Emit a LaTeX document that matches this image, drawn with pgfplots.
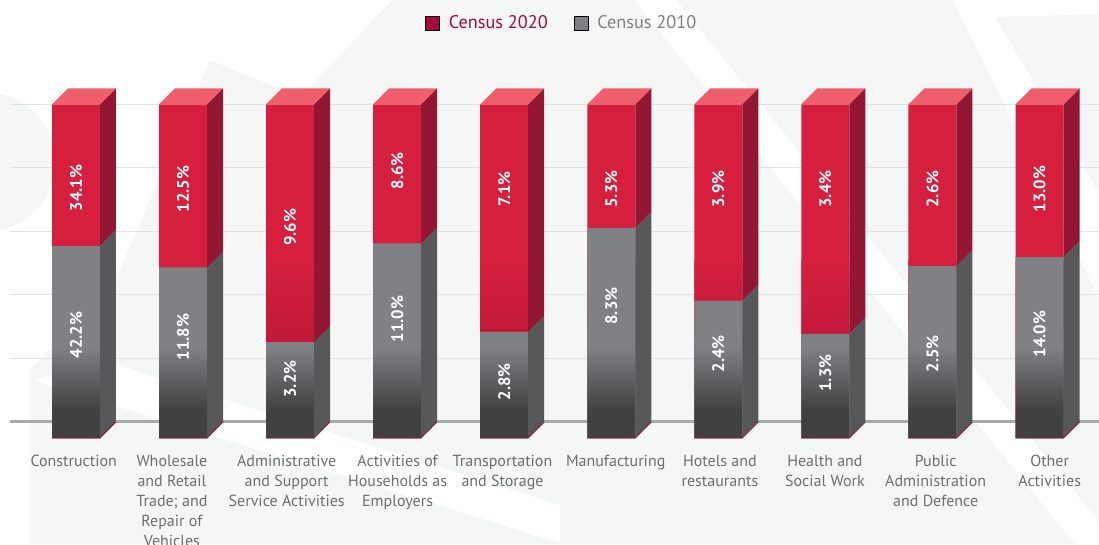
\documentclass[border=0pt]{standalone}
\usepackage{fontspec}
\setmainfont{PT Sans}
\usepackage{pgfplots}
\usepackage{pgfplotstable}
\pgfplotsset{compat=1.18}

\definecolor{redF}{HTML}{D61F3F}
\definecolor{redD}{HTML}{BC1738}
\definecolor{redS}{HTML}{931733}
\definecolor{redT}{HTML}{EF5F6B}
\definecolor{grayF}{HTML}{808185}
\definecolor{grayD}{HTML}{414143}
\definecolor{grayS}{HTML}{57585A}
\definecolor{legRed}{HTML}{A6093D}
\definecolor{legGray}{HTML}{808084}
\definecolor{gridc}{HTML}{E1E2E2}
\definecolor{basec}{HTML}{A8A9AC}
\definecolor{labc}{HTML}{6D6E71}
\definecolor{bgc}{HTML}{F5F6F6}

\pgfdeclareverticalshading{grayfade}{100bp}{color(0bp)=(grayD); color(38bp)=(grayD); color(67bp)=(grayF); color(100bp)=(grayF)}
\pgfdeclareverticalshading{redfade}{100bp}{color(0bp)=(redD); color(48bp)=(redD); color(75bp)=(redF); color(100bp)=(redF)}

\tikzset{
  vlab/.style={rotate=90, text=white, font=\bfseries\fontsize{12.5}{14}\selectfont, inner sep=0pt},
  clab/.style={anchor=north, align=center, text=labc, inner sep=0pt, font=\fontsize{12}{15}\selectfont},
}

% a = Census 2010 (grey), b = Census 2020 (red), ylr/ylg = label heights
\pgfplotstableread{
x a b ylr ylg
0 42.2 34.1 78.8 32.5
1 11.8 12.5 78.5 31.8
2 3.2 9.6 66.5 18.6
3 11.0 8.6 84.2 37.5
4 2.8 7.1 78.5 17.7
5 8.3 5.3 78.5 41.6
6 2.4 3.9 78.5 26.5
7 1.3 3.4 78.5 20.5
8 2.5 2.6 78.5 26.5
9 14.0 13.0 78.5 32.8
}\data

\begin{document}
\begin{tikzpicture}
% faint background shapes, in pixel units from the top-left corner
\begin{scope}[x=0.75pt, y=-0.75pt, yshift=408pt]
  \fill[bgc] (0,0) rectangle (1099,544);
  \fill[white] (0,0) -- (392,0) -- (300,97) -- (210,60) -- (120,270) -- (30,370) -- (30,544) -- (0,544) -- cycle;
  \fill[bgc] (-15,162) circle[radius=70];
  \fill[white] (634,0) -- (676,0) -- (1117,544) -- (1075,544) -- cycle;
  \fill[white] (953,0) -- (1099,0) -- (1099,14) -- (995,17) -- (1099,193) -- (1099,298) -- cycle;
  \fill[white] (116,365) -- (560,505) -- (560,543) -- (32,380) -- cycle;
\end{scope}
\begin{axis}[
    scale only axis, width=824.25pt, height=408pt,
    xmin=-0.7099, xmax=9.5557, ymin=-33.42, ymax=138.08,
    axis lines=none, xtick=\empty, ytick=\empty,
    clip=false,
    front/.style={ybar, bar width=36pt, bar shift=0pt, draw=none, forget plot},
    legend style={at={(rel axis cs:0.5115,0.9577)}, anchor=center, draw=none, fill=none,
        legend columns=2, column sep=0pt, font=\fontsize{13.7}{16}\selectfont,
        /tikz/every odd column/.append style={column sep=4.7pt},
        /tikz/every even column/.append style={column sep=17.5pt}},
    legend image code/.code={\fill[#1] (0pt,-5.25pt) rectangle (10.5pt,5.25pt);},
]
\addlegendimage{fill=legRed}
\addlegendentry{\textcolor{legRed}{Census 2020}}
\addlegendimage{fill=legGray}
\addlegendentry{\textcolor{legGray}{Census 2010}}

% grid lines
\addplot[gridc, line width=0.75pt, forget plot] coordinates {(-0.6165,25.2) (9.5557,25.2)};
\addplot[gridc, line width=0.75pt, forget plot] coordinates {(-0.6165,45.2) (9.5557,45.2)};
\addplot[gridc, line width=0.75pt, forget plot] coordinates {(-0.6165,65.2) (9.5557,65.2)};
\addplot[gridc, line width=0.75pt, forget plot] coordinates {(-0.6165,85.2) (9.5557,85.2)};
\addplot[gridc, line width=0.75pt, forget plot] coordinates {(-0.6165,105.2) (9.5557,105.2)};
\addplot[basec, line width=1.6pt, forget plot] coordinates {(-0.6165,5.2) (9.5557,5.2)};

% front faces
\addplot[front, fill=redF] table[x=x, y expr=105.2] {\data};
\addplot[front, shading=redfade] table[x=x, y expr=56] {\data};
\addplot[front, fill=grayF] table[x=x, y expr={5.2+100*\thisrow{a}/(\thisrow{a}+\thisrow{b})}] {\data};
\addplot[front, shading=grayfade] table[x=x, y expr={min(34, 5.2+100*\thisrow{a}/(\thisrow{a}+\thisrow{b}))}] {\data};

% side and top faces, value labels
\pgfplotsinvokeforeach{0,...,9}{
  \pgfplotstablegetelem{#1}{a}\of\data \let\va\pgfplotsretval
  \pgfplotstablegetelem{#1}{b}\of\data \let\vb\pgfplotsretval
  \pgfplotstablegetelem{#1}{ylr}\of\data \let\vlr\pgfplotsretval
  \pgfplotstablegetelem{#1}{ylg}\of\data \let\vlg\pgfplotsretval
  \pgfmathsetmacro\yg{5.2+100*\va/(\va+\vb)}
  \pgfmathsetmacro\ygg{\yg+5.044}
  \pgfmathsetmacro\xl{#1-0.2242}
  \pgfmathsetmacro\xr{#1+0.2242}
  \pgfmathsetmacro\xll{#1-0.2242+0.1494}
  \pgfmathsetmacro\xrr{#1+0.2242+0.1494}
  \edef\tmp{%
    \noexpand\addplot[fill=grayS, draw=none, forget plot] coordinates {(\xr,0) (\xrr,5.044) (\xrr,\ygg) (\xr,\yg)} -- cycle;
    \noexpand\addplot[fill=redS, draw=none, forget plot] coordinates {(\xr,\yg) (\xrr,\ygg) (\xrr,110.244) (\xr,105.2)} -- cycle;
    \noexpand\addplot[fill=redT, draw=none, forget plot] coordinates {(\xl,105.2) (\xr,105.2) (\xrr,110.244) (\xll,110.244)} -- cycle;
    \noexpand\addplot[redS, line width=0.6pt, forget plot] coordinates {(\xl,0) (\xr,0) (\xrr,5.044)};
    \noexpand\node[vlab] at (axis cs:#1,\vlr) {\vb\noexpand\%};
    \noexpand\node[vlab] at (axis cs:#1,\vlg) {\va\noexpand\%};
  }\tmp
}

% category labels
\node[clab] at (axis cs:-0.021,-5.3) {\vphantom{l}Construction};
\node[clab] at (axis cs:0.896,-5.3) {Wholesale\\and Retail\\Trade; and\\Repair of\\Vehicles};
\node[clab] at (axis cs:1.968,-5.3) {Administrative\\and Support\\Service Activities};
\node[clab] at (axis cs:3.004,-5.3) {Activities of\\Households as\\Employers};
\node[clab] at (axis cs:3.984,-5.3) {Transportation\\and Storage};
\node[clab] at (axis cs:5.041,-5.3) {Manufacturing};
\node[clab] at (axis cs:6.015,-5.3) {Hotels and\\restaurants};
\node[clab] at (axis cs:6.996,-5.3) {Health and\\Social Work};
\node[clab] at (axis cs:8.030,-5.3) {Public\\Administration\\and Defence};
\node[clab] at (axis cs:9.095,-5.3) {Other\\Activities};
\end{axis}
\pgfresetboundingbox
\path[use as bounding box] (current axis.south west) rectangle (current axis.north east);
\end{tikzpicture}
\end{document}
